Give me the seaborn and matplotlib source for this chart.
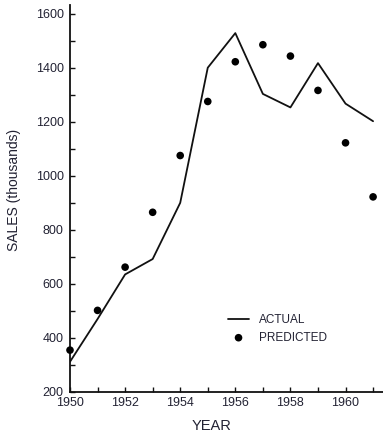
import matplotlib
matplotlib.use("Agg")
import matplotlib.pyplot as plt
from matplotlib.ticker import MultipleLocator
import seaborn as sns
import pandas as pd

years = [1950, 1951, 1952, 1953, 1954, 1955, 1956, 1957, 1958, 1959, 1960, 1961]
actual = [312, 470, 635, 692, 900, 1400, 1528, 1303, 1253, 1417, 1267, 1202]
predicted = [355, 502, 662, 865, 1075, 1275, 1422, 1485, 1443, 1316, 1122, 922]

sns.set_style("ticks")
plt.rcParams["font.family"] = ["Liberation Sans", "DejaVu Sans"]
txt = "#222233"

df = pd.DataFrame({"year": years, "actual": actual, "predicted": predicted})

fig = plt.figure(figsize=(3.83, 4.34), dpi=100)
ax = fig.add_axes([70 / 383, 42 / 434, 1 - 70 / 383, (392 - 5) / 434])

sns.lineplot(data=df, x="year", y="actual", ax=ax, color="#111111", linewidth=1.3, label="ACTUAL")
sns.scatterplot(data=df, x="year", y="predicted", ax=ax, color="#000000", s=30,
                edgecolor="none", label="PREDICTED", clip_on=False, zorder=5)

ax.set_xlim(1950, 1961.36)
ax.set_ylim(200, 1632)
ax.xaxis.set_major_locator(MultipleLocator(2))
ax.xaxis.set_minor_locator(MultipleLocator(1))
ax.yaxis.set_major_locator(MultipleLocator(200))
ax.yaxis.set_minor_locator(MultipleLocator(100))
ax.tick_params(which="both", direction="in", length=3.5, width=1.0, color="#111111",
               labelsize=9, labelcolor=txt)
ax.tick_params(axis="x", which="both", pad=3.5)
ax.tick_params(axis="y", which="both", pad=4.5)
for s in ["top", "right"]:
    ax.spines[s].set_visible(False)
for s in ["left", "bottom"]:
    ax.spines[s].set_linewidth(1.3)
    ax.spines[s].set_color("#111111")

ax.set_xlabel("YEAR", fontsize=10.5, color=txt)
ax.set_ylabel("SALES (thousands)", fontsize=10, color=txt)
ax.xaxis.set_label_coords((212 - 70) / 313, -0.071)
ax.yaxis.set_label_coords(-0.158, (392 - 190) / 387)

leg = ax.legend(loc="upper left", bbox_to_anchor=((222 - 70) / 313, (392 - 308) / 387),
                frameon=False, fontsize=8.5, handlelength=1.8, handletextpad=0.8,
                labelspacing=0.5, borderpad=0)
for t in leg.get_texts():
    t.set_color(txt)

fig.savefig("out.png", dpi=100)
